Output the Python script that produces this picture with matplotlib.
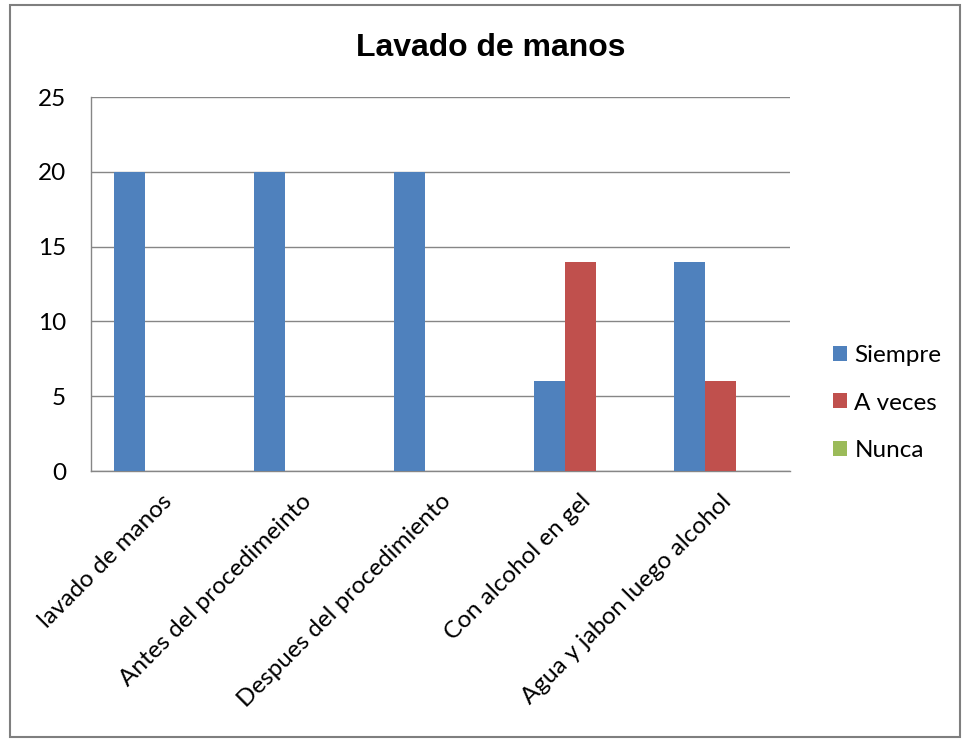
import matplotlib.pyplot as plt
import matplotlib.patches as patches
import numpy as np

plt.rcParams['font.family'] = ['Lato', 'DejaVu Sans']

# datos de la encuesta
categorias = ['lavado de manos', 'Antes del procedimeinto', 'Despues del procedimiento',
              'Con alcohol en gel', 'Agua y jabon luego alcohol']
siempre = [20, 20, 20, 6, 14]
a_veces = [0, 0, 0, 14, 6]
nunca = [0, 0, 0, 0, 0]
series = [('Siempre', siempre, '#4F81BD'),
          ('A veces', a_veces, '#C0504D'),
          ('Nunca', nunca, '#9BBB59')]

W, H = 968, 740
fig = plt.figure(figsize=(W / 100, H / 100), dpi=100)

# marco exterior del gráfico
fig.patches.append(patches.Rectangle((10 / W, 1 - 737 / H), 950 / W, 732 / H,
                                     transform=fig.transFigure, fill=False,
                                     edgecolor='#7f7f7f', linewidth=1.5))

ax = fig.add_axes([91 / W, 1 - 471 / H, 699 / W, 374 / H])

x = np.arange(len(categorias))
ancho = 1 / 4.5
for i, (nombre, vals, color) in enumerate(series):
    ax.bar(x + (i - 1) * ancho, vals, width=ancho, color=color, label=nombre, zorder=3)

ax.set_xlim(-0.5, len(categorias) - 0.5)
ax.set_ylim(0, 25)
ax.set_yticks(range(0, 26, 5))
ax.yaxis.grid(True, color='#868686', linewidth=1, zorder=0)
ax.tick_params(axis='y', length=0, labelsize=17.5, pad=18)
ax.tick_params(axis='x', length=0, labelsize=17.5, pad=14)
ax.set_xticks(x)
ax.set_xticklabels(categorias, rotation=45, ha='right', rotation_mode='anchor')
for s in ['top', 'right']:
    ax.spines[s].set_visible(False)
for s in ['left', 'bottom']:
    ax.spines[s].set_color('#868686')
    ax.spines[s].set_linewidth(1)

fig.text(491 / W, 1 - 48 / H, 'Lavado de manos', fontsize=23, fontweight='bold',
         family=['Liberation Sans', 'DejaVu Sans'], ha='center', va='center')

ax.legend(loc='center left', bbox_to_anchor=(811 / W, 1 - 403 / H),
          bbox_transform=fig.transFigure, frameon=False, fontsize=17.5,
          handlelength=0.58, handleheight=0.58, handletextpad=0.3,
          labelspacing=1.1)

fig.savefig('out.png', dpi=100)
